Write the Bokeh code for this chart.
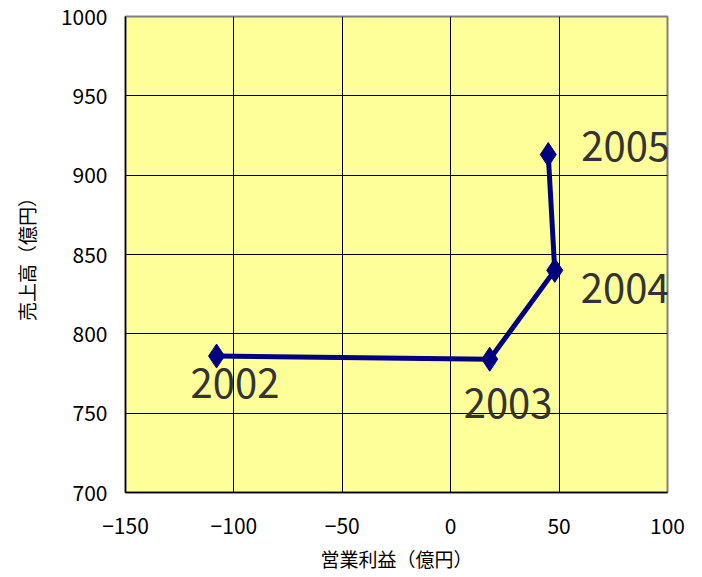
from bokeh.plotting import figure
from bokeh.models import ColumnDataSource, FixedTicker, Range1d
from bokeh.core.properties import value
from bokeh.embed import file_html
from bokeh.resources import INLINE

years = ["2002", "2003", "2004", "2005"]
operating_profit = [-108, 18, 48, 45]
sales = [786, 784, 840, 913]
label_dx = [-26, -26, 26, 33]
label_dy = [27, 44, 18, -8]

x_ticks = [-150, -100, -50, 0, 50, 100]
y_ticks = [700, 750, 800, 850, 900, 950, 1000]

FONT = "Noto Sans CJK JP"

src = ColumnDataSource(dict(x=operating_profit, y=sales, t=years, dx=label_dx, dy=label_dy))

p = figure(width=702, height=577, output_backend="svg", toolbar_location=None,
           x_range=Range1d(-150, 100), y_range=Range1d(700, 1000),
           min_border_left=125, min_border_right=35, min_border_top=16, min_border_bottom=85)

p.background_fill_color = "#FFFF99"
p.border_fill_color = "white"
p.outline_line_color = "#808080"
p.outline_line_width = 2

p.xaxis.ticker = FixedTicker(ticks=x_ticks)
p.yaxis.ticker = FixedTicker(ticks=y_ticks)
for ax in (p.xaxis[0], p.yaxis[0]):
    ax.axis_line_color = "black"
    ax.axis_line_width = 1.5
    ax.major_tick_out = 0
    ax.major_tick_in = 0
    ax.minor_tick_out = 0
    ax.minor_tick_in = 0
    ax.major_label_text_font = FONT
    ax.major_label_text_font_size = "21px"
    ax.major_label_text_color = "black"
    ax.axis_label_text_font = FONT
    ax.axis_label_text_font_size = "19px"
    ax.axis_label_text_font_style = "normal"
    ax.axis_label_text_color = "black"

p.xaxis.axis_label = "営業利益（億円）"
p.yaxis.axis_label = "売上高（億円）"
p.xaxis.major_label_standoff = 25
p.xaxis.axis_label_standoff = 8
p.yaxis.major_label_standoff = 18
p.yaxis.axis_label_standoff = 18

p.xgrid.ticker = FixedTicker(ticks=x_ticks)
p.ygrid.ticker = FixedTicker(ticks=y_ticks)
p.xgrid.grid_line_color = "black"
p.ygrid.grid_line_color = "black"
p.xgrid.grid_line_width = 1
p.ygrid.grid_line_width = 1

p.line("x", "y", source=src, line_color="#000080", line_width=5)
p.scatter("x", "y", source=src, marker="diamond", size=24, fill_color="#000080", line_color="#000080")

p.text("x", "y", text="t", source=src, x_offset="dx", y_offset="dy",
       text_font=value(FONT), text_font_size="40px", text_color="#333333",
       text_align="left", text_baseline="middle")

open("out.html", "w").write(file_html(p, INLINE))
